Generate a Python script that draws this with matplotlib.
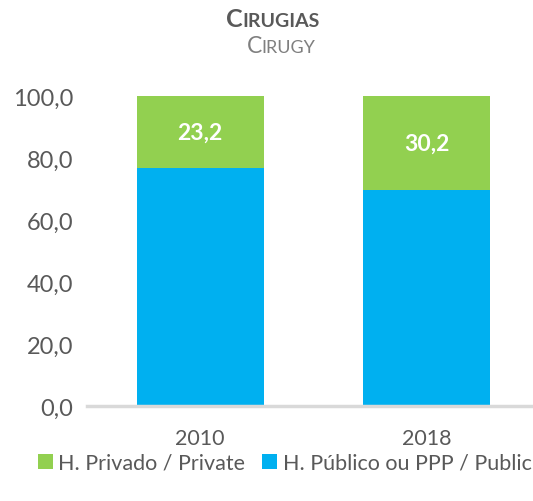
import matplotlib.pyplot as plt

plt.rcParams['font.family'] = ['Lato', 'DejaVu Sans']

years = ['2010', '2018']
public = [76.8, 69.8]
private = [23.2, 30.2]
yticks = [0, 20, 40, 60, 80, 100]

grey = '#595959'
fig = plt.figure(figsize=(5.33, 5.02), dpi=100)
ax = fig.add_axes([87/533, 1 - 407/502, (533 - 87)/533, 310/502])

x = range(len(years))
ax.bar(x, public, width=0.56, color='#00B0F0', label='H. Público ou PPP / Public')
ax.bar(x, private, width=0.56, bottom=public, color='#92D050', label='H. Privado / Private')
for i in x:
    ax.text(i, public[i] + private[i] / 2, f'{private[i]:.1f}'.replace('.', ','),
            ha='center', va='center', color='white', fontsize=16.5, fontweight='bold')

ax.set_xlim(-0.5, 1.47)
ax.set_ylim(0, 100)
ax.set_yticks(yticks)
ax.set_yticklabels([f'{v:.1f}'.replace('.', ',') for v in yticks])
ax.set_xticks(list(x))
ax.set_xticklabels(years)
for s in ['top', 'right', 'left']:
    ax.spines[s].set_visible(False)
ax.spines['bottom'].set_color('#D9D9D9')
ax.spines['bottom'].set_linewidth(2.5)
ax.tick_params(axis='both', length=0, colors=grey)
ax.tick_params(axis='y', labelsize=17, pad=10)
ax.tick_params(axis='x', labelsize=15.5, pad=16)

# small caps title, centred by measuring the pieces
renderer = fig.canvas.get_renderer()


def small_caps(cx, y, big, rest, s1, s2, color, weight):
    a = fig.text(0, y, big, fontsize=s1, fontweight=weight, color=color, va='baseline')
    b = fig.text(0, y, rest, fontsize=s2, fontweight=weight, color=color, va='baseline')
    wa = a.get_window_extent(renderer).width / fig.bbox.width
    wb = b.get_window_extent(renderer).width / fig.bbox.width
    left = cx - (wa + wb) / 2
    a.set_x(left)
    b.set_x(left + wa)


small_caps(273/533, 1 - 27/502, 'C', 'IRUGIAS', 18, 14, grey, 'bold')
small_caps(281/533, 1 - 53/502, 'C', 'IRUGY', 16.5, 13, '#7F7F7F', 'normal')

h, l = ax.get_legend_handles_labels()
fig.legend(h[::-1], l[::-1], loc='center', bbox_to_anchor=(0.5 + 18/533, 1 - 464/502), ncol=2,
           frameon=False, fontsize=15.5, handlelength=0.7, handleheight=0.7,
           handletextpad=0.25, columnspacing=0.8, labelcolor=grey)

fig.savefig('out.png', dpi=100)
